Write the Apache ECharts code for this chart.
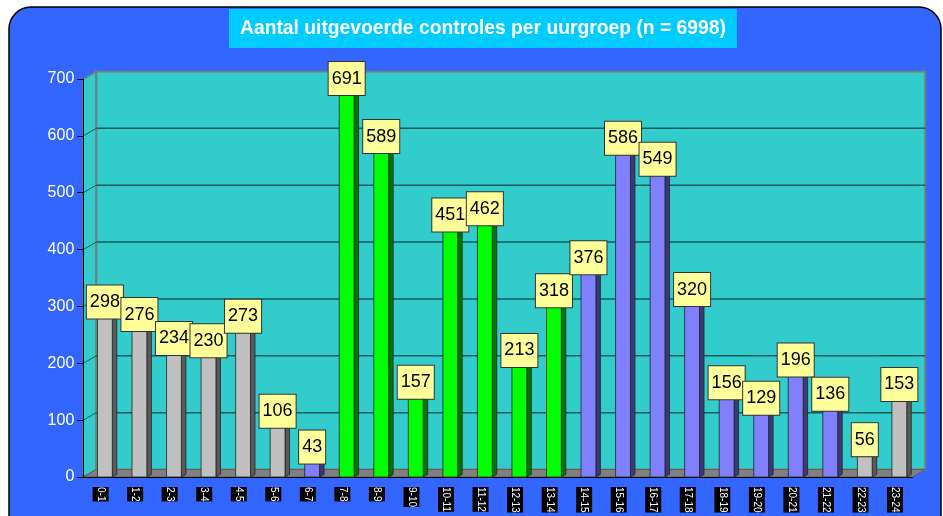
<!DOCTYPE html>
<html><head><meta charset="utf-8">
<script src="https://cdn.jsdelivr.net/npm/echarts@6/dist/echarts.min.js"></script>
<style>html,body{margin:0;padding:0;background:#fff}#c{width:943px;height:516px}</style>
</head><body><div id="c"></div><script>
const categories = ['0-1','1-2','2-3','3-4','4-5','5-6','6-7','7-8','8-9','9-10','10-11','11-12','12-13','13-14','14-15','15-16','16-17','17-18','18-19','19-20','20-21','21-22','22-23','23-24'];
const values = [298,276,234,230,273,106,43,691,589,157,451,462,213,318,376,586,549,320,156,129,196,136,56,153];
const groups = [0,0,0,0,0,0,2,1,1,1,1,1,1,1,2,2,2,2,2,2,2,2,0,0];
const yMin = 0, yMax = 700, yInterval = 100;
const titleText = 'Aantal uitgevoerde controles per uurgroep (n = 6998)';

const palette = [
  {face:'#c0c0c0', side:'#5a5a5a'},
  {face:'#00ff00', side:'#007800'},
  {face:'#8080ff', side:'#3a3a78'}
];
const DX = 13, DY = -7.5;
const FONT = '"Liberation Sans", Arial, sans-serif';

function renderWalls(params, api) {
  const cs = params.coordSys;
  const x0 = cs.x, x1 = cs.x + cs.width, yt = cs.y, yb = cs.y + cs.height;
  const ch = [];
  ch.push({type:'polygon', shape:{points:[[x0,yt],[x0+DX,yt+DY],[x0+DX,yb+DY],[x0,yb]]},
    style:{fill:'#33cccc', stroke:'#6f7f7f', lineWidth:1.5}});
  ch.push({type:'rect', shape:{x:x0+DX, y:yt+DY, width:cs.width, height:cs.height},
    style:{fill:'#33cccc', stroke:'#6f7f7f', lineWidth:2}});
  for (let v = yMin + yInterval; v < yMax; v += yInterval) {
    const y = api.coord([0, v])[1];
    ch.push({type:'line', shape:{x1:x0+DX, y1:y+DY, x2:x1+DX, y2:y+DY}, style:{stroke:'#105c5c', lineWidth:1.5}});
    ch.push({type:'line', shape:{x1:x0, y1:y, x2:x0+DX, y2:y+DY}, style:{stroke:'#105c5c', lineWidth:1}});
  }
  ch.push({type:'polygon', shape:{points:[[x0,yb],[x1,yb],[x1+DX,yb+DY],[x0+DX,yb+DY]]},
    style:{fill:'#808080', stroke:'#5f5f5f', lineWidth:1}});
  return {type:'group', children:ch};
}

function barGeom(api) {
  const idx = api.value(0), v = api.value(1);
  const top = api.coord([idx, v]);
  const base = api.coord([idx, 0]);
  const bw = api.size([1, 0])[0];
  const fw = bw * 0.43;
  const cx = top[0] + bw * 0.125;
  return {idx, v, top, base, fw, cx, fx: cx - fw / 2};
}

function renderBar(params, api) {
  const g = barGeom(api);
  const pal = palette[groups[params.dataIndex]];
  const s = 4.5;
  const xr = g.fx + g.fw;
  return {type:'group', children:[
    {type:'polygon', shape:{points:[[xr,g.top[1]],[xr+s,g.top[1]-s*0.6],[xr+s,g.base[1]-s*0.6],[xr,g.base[1]]]},
      style:{fill:pal.side, stroke:'#222', lineWidth:0.8}},
    {type:'rect', shape:{x:g.fx, y:g.top[1], width:g.fw, height:g.base[1]-g.top[1]},
      style:{fill:pal.face, stroke:'#222', lineWidth:0.8}}
  ]};
}

function renderLabel(params, api) {
  const g = barGeom(api);
  return {type:'text', x:g.cx, y:g.top[1]-5.5,
    style:{text:String(g.v), fill:'#000', fontSize:18, fontFamily:FONT, align:'center', verticalAlign:'middle',
      lineHeight:18, backgroundColor:'#ffff99', borderColor:'#333', borderWidth:1, padding:[8,3,7,3]}};
}

const data = values.map((v, i) => [i, v]);
const chart = echarts.init(document.getElementById('c'));
chart.setOption({
  animation: false,
  graphic: [{type:'rect', z:-10, shape:{x:9, y:7, width:932, height:560, r:22},
    style:{fill:'#3366ff', stroke:'#000', lineWidth:1.5}}],
  title: {text:titleText, left:229, top:9, padding:[9,11,9,11], backgroundColor:'#00ccff',
    textStyle:{color:'#fff', fontWeight:'bold', fontSize:19.3, fontFamily:FONT, lineHeight:21}},
  grid: {left:83.3, right:30.7, top:79, bottom:39},
  xAxis: {type:'category', data:categories, z:3, boundaryGap:true,
    axisLine:{lineStyle:{color:'#000', width:1}},
    axisTick:{length:7, lineStyle:{color:'#000'}},
    axisLabel:{rotate:-90, color:'#fff', backgroundColor:'#000', fontSize:10, fontFamily:FONT, margin:10, lineHeight:14, padding:[1,0], interval:0},
    splitLine:{show:false}},
  yAxis: {type:'value', min:yMin, max:yMax, interval:yInterval, z:3,
    axisLine:{show:true, lineStyle:{color:'#000', width:1}},
    axisTick:{show:true, length:6, lineStyle:{color:'#000'}},
    axisLabel:{color:'#fff', fontSize:16, fontFamily:FONT, margin:9},
    splitLine:{show:false}},
  series: [
    {type:'custom', z:1, renderItem:renderWalls, data:[[0, 0]], encode:{x:0, y:1}, silent:true},
    {type:'custom', z:4, renderItem:renderBar, data:data, encode:{x:0, y:1}},
    {type:'custom', z:5, renderItem:renderLabel, data:data, encode:{x:0, y:1}}
  ]
});
</script></body></html>
